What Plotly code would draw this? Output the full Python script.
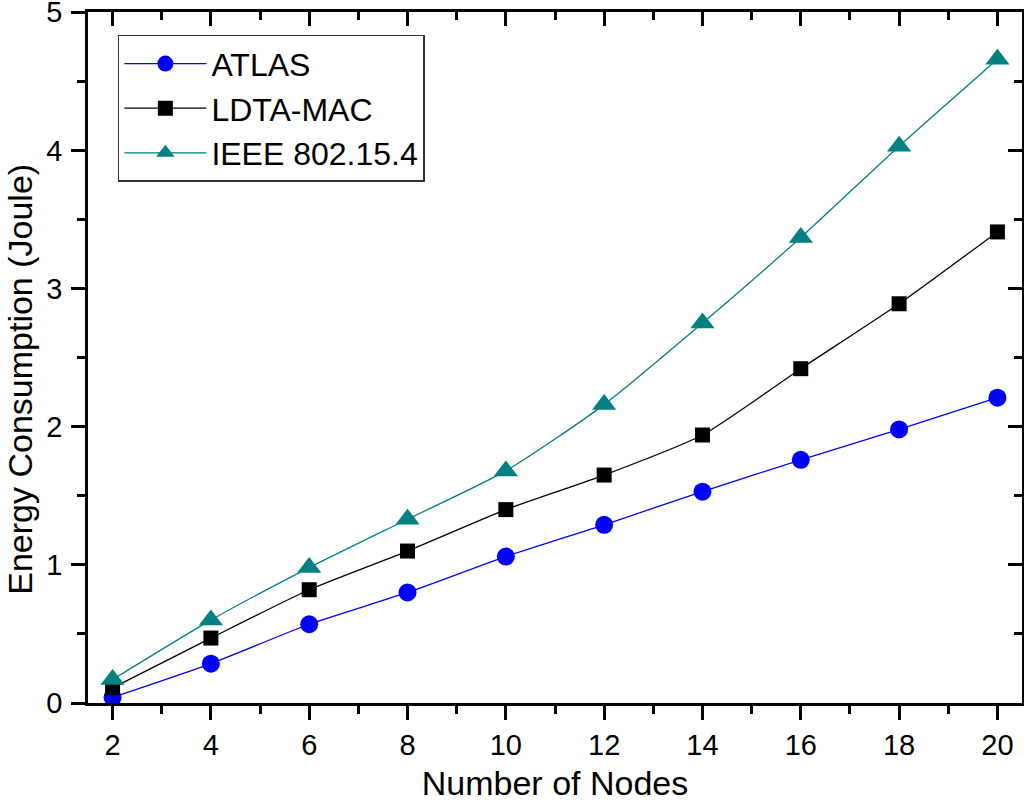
import plotly.graph_objects as go

nodes = [2, 4, 6, 8, 10, 12, 14, 16, 18, 20]
atlas = [0.04, 0.285, 0.57, 0.80, 1.06, 1.29, 1.53, 1.76, 1.98, 2.21]
ldta_mac = [0.11, 0.47, 0.82, 1.10, 1.40, 1.65, 1.94, 2.42, 2.89, 3.41]
ieee = [0.17, 0.60, 0.98, 1.33, 1.68, 2.16, 2.75, 3.37, 4.03, 4.66]

FONT = "Arial, Liberation Sans, sans-serif"

fig = go.Figure()
fig.add_trace(go.Scatter(x=nodes, y=atlas, name="ATLAS", mode="lines+markers",
                         line=dict(color="#0000FF", width=1.3, shape="spline", smoothing=0.6),
                         marker=dict(symbol="circle", size=18, color="#0000FF")))
fig.add_trace(go.Scatter(x=nodes, y=ldta_mac, name="LDTA-MAC", mode="lines+markers",
                         line=dict(color="#000000", width=1.3, shape="spline", smoothing=0.6),
                         marker=dict(symbol="square", size=15, color="#000000")))
fig.add_trace(go.Scatter(x=nodes, y=ieee, name="IEEE 802.15.4", mode="lines+markers",
                         line=dict(color="#008080", width=1.3, shape="spline", smoothing=0.6),
                         marker=dict(symbol="triangle-up", size=21, color="#008080")))
fig.add_trace(go.Scatter(x=[], y=[], xaxis="x2", yaxis="y2", showlegend=False, hoverinfo="skip"))

axis_common = dict(showgrid=False, zeroline=False, showline=True, linecolor="black",
                   linewidth=2.5, tickcolor="black", tickwidth=2.5, ticklen=14,
                   automargin=False, ticklabeloverflow="allow",
                   tickfont=dict(family=FONT, size=29, color="black"))

fig.update_layout(
    width=1024, height=802,
    paper_bgcolor="white", plot_bgcolor="white",
    margin=dict(l=88, r=2, t=12, b=99),
    font=dict(family=FONT, color="black"),
    xaxis=dict(range=[1.5, 20.5], tickmode="linear", tick0=2, dtick=2, ticks="outside",
               ticklabelstandoff=0,
               minor=dict(ticks="outside", ticklen=8, tickwidth=2.5, tickcolor="black", tick0=1, dtick=2),
               title=dict(text="Number of Nodes", font=dict(family=FONT, size=34), standoff=33),
               **axis_common),
    yaxis=dict(range=[0, 5.002], tickmode="linear", tick0=0, dtick=1, ticks="outside",
               ticklabelstandoff=3,
               minor=dict(ticks="outside", ticklen=8, tickwidth=2.5, tickcolor="black", tick0=0.5, dtick=1),
               **axis_common),
    xaxis2=dict(range=[1.5, 20.5], overlaying="x", side="top", anchor="y2", tickmode="linear",
                tick0=2, dtick=2, ticks="inside", showticklabels=False,
                minor=dict(ticks="inside", ticklen=8, tickwidth=2.5, tickcolor="black", tick0=1, dtick=2),
                **axis_common),
    yaxis2=dict(range=[0, 5.002], overlaying="y", side="right", anchor="x2", tickmode="linear",
                tick0=0, dtick=1, ticks="inside", showticklabels=False,
                minor=dict(ticks="inside", ticklen=8, tickwidth=2.5, tickcolor="black", tick0=0.5, dtick=1),
                **axis_common),
    legend=dict(x=0.032, y=0.967, xanchor="left", yanchor="top",
                bgcolor="white", bordercolor="#333333", borderwidth=1.5,
                font=dict(family=FONT, size=32, color="black"),
                itemwidth=82, tracegroupgap=0),
    annotations=[dict(text="Energy Consumption (Joule)", textangle=-90, showarrow=False,
                      xref="paper", yref="paper", x=-0.073, y=0.469,
                      xanchor="center", yanchor="middle",
                      font=dict(family=FONT, size=34, color="black"))],
)

fig.write_html("out.html", config={"displayModeBar": False},
               post_script="document.body.style.margin='0px';document.body.style.padding='0px';")
